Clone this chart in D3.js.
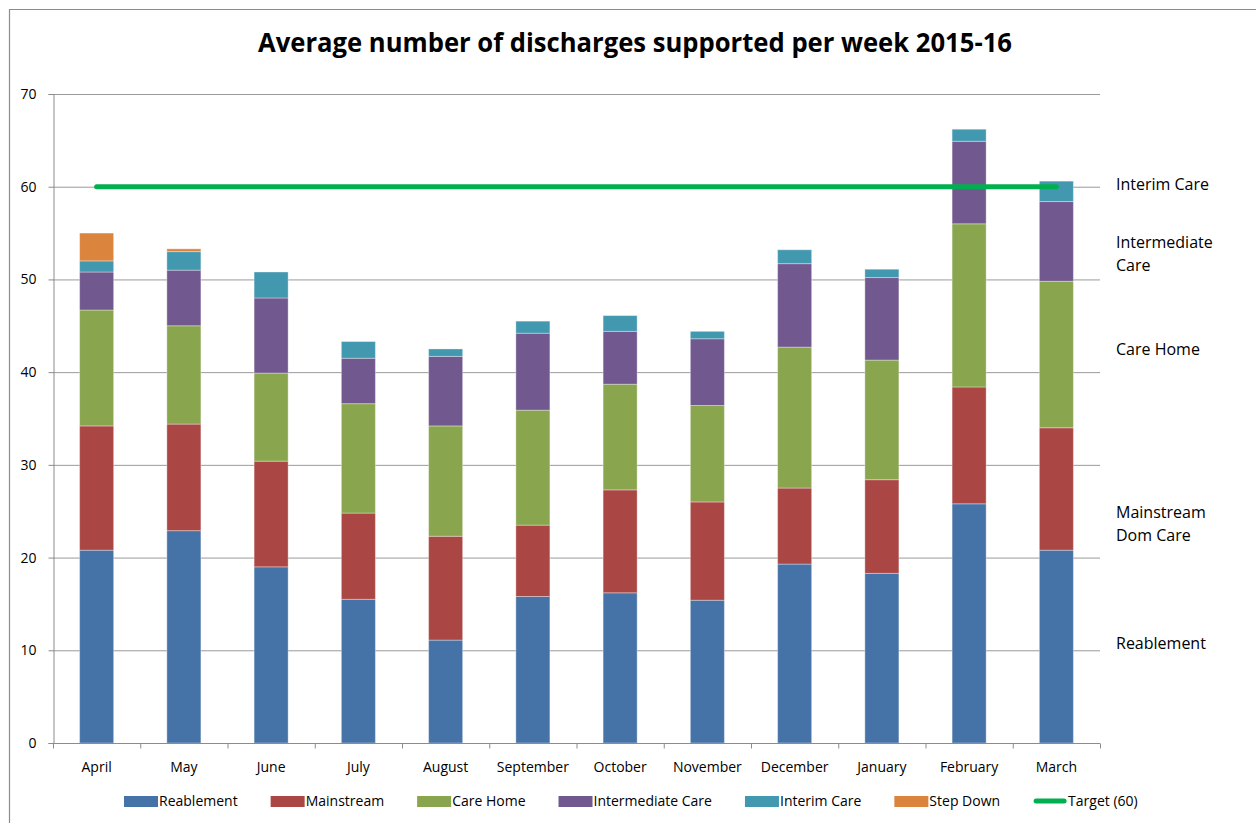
<!DOCTYPE html>
<html><head><meta charset="utf-8">
<script src="https://cdn.jsdelivr.net/npm/d3@7"></script>
<style>body{margin:0;background:#fff;} svg{display:block;font-family:Lato,"Open Sans",sans-serif;}</style>
</head><body>
<svg id="c" width="1256" height="823"></svg>
<script>
const months = ["April","May","June","July","August","September","October","November","December","January","February","March"];
const seriesNames = ["Reablement","Mainstream","Care Home","Intermediate Care","Interim Care","Step Down"];
const reablement   = [20.8,22.9,19.0,15.5,11.1,15.8,16.2,15.4,19.3,18.3,25.8,20.8];
const mainstream   = [13.4,11.5,11.4, 9.3,11.2, 7.7,11.1,10.6, 8.2,10.1,12.6,13.2];
const careHome     = [12.5,10.6, 9.5,11.8,11.9,12.4,11.4,10.4,15.2,12.9,17.6,15.8];
const intermediate = [ 4.1, 6.0, 8.1, 4.9, 7.5, 8.3, 5.7, 7.2, 9.0, 8.9, 8.9, 8.6];
const interim      = [ 1.2, 2.0, 2.8, 1.8, 0.8, 1.3, 1.7, 0.8, 1.5, 0.9, 1.3, 2.2];
const stepDown     = [ 3.0, 0.3, 0, 0, 0, 0, 0, 0, 0, 0, 0, 0];
const target = 60;
const yTicks = [0,10,20,30,40,50,60,70];
const sideLabels = [["Reablement"],["Mainstream","Dom Care"],["Care Home"],["Intermediate","Care"],["Interim Care"]];
const sideLabelValues = [10.8, 23.7, 42.5, 52.8, 60.3];
const colors = ["#4572A7","#AA4643","#89A54E","#71588F","#4198AF","#DB843D"];

const svg = d3.select("#c");
const m = {l:53, r:1100, t:94, b:743};
const x = d3.scaleBand().domain(months).range([m.l, m.r]).paddingInner(0.61).paddingOuter(0.305);
const y = d3.scaleLinear().domain([0,70]).range([m.b, m.t]);

// outer border
svg.append("path").attr("d","M9.5,830 L9.5,9.5 L1270,9.5").attr("fill","none").attr("stroke","#8c8c8c").attr("stroke-width",1.2);

// gridlines
svg.append("g").selectAll("line").data(yTicks.filter(d=>d>0)).join("line")
  .attr("x1",m.l).attr("x2",m.r).attr("y1",d=>y(d)+0.5).attr("y2",d=>y(d)+0.5)
  .attr("stroke","#9a9a9a").attr("stroke-width",1);

// stacked bars
const rows = months.map((mo,i)=>({month:mo, "Reablement":reablement[i], "Mainstream":mainstream[i], "Care Home":careHome[i], "Intermediate Care":intermediate[i], "Interim Care":interim[i], "Step Down":stepDown[i]}));
const stack = d3.stack().keys(seriesNames)(rows);
svg.append("g").selectAll("g").data(stack).join("g").attr("fill",(d,i)=>colors[i])
  .selectAll("rect").data(d=>d.filter(s=>s[1]-s[0]>0)).join("rect")
  .attr("x",d=>x(d.data.month)).attr("width",x.bandwidth())
  .attr("y",d=>y(d[1])).attr("height",d=>y(d[0])-y(d[1]))
  .attr("stroke","rgba(255,255,255,0.35)").attr("stroke-width",1);

// y axis
const ya = d3.axisLeft(y).tickValues(yTicks).tickSize(5).tickPadding(12);
const gy = svg.append("g").attr("transform",`translate(${m.l+0.5},0)`).call(ya);
gy.select(".domain").attr("stroke","#8c8c8c");
gy.selectAll(".tick line").attr("stroke","#8c8c8c");
gy.selectAll("text").attr("font-size",14).attr("fill","#000").attr("font-family","'Open Sans',sans-serif");

// x axis
const gx = svg.append("g").attr("transform",`translate(0,${m.b+0.5})`);
gx.append("line").attr("x1",m.l).attr("x2",m.r).attr("stroke","#8c8c8c");
const step = x.step();
gx.selectAll(".tk").data(d3.range(months.length+1)).join("line")
  .attr("x1",i=>m.l+i*step+0.5).attr("x2",i=>m.l+i*step+0.5).attr("y1",0).attr("y2",5).attr("stroke","#8c8c8c");
gx.selectAll("text").data(months).join("text")
  .attr("x",d=>x(d)+x.bandwidth()/2).attr("y",28).attr("text-anchor","middle")
  .attr("font-size",14).attr("font-family","'Open Sans',sans-serif").text(d=>d);

// target line
svg.append("line").attr("x1",x(months[0])+x.bandwidth()/2).attr("x2",x(months[months.length-1])+x.bandwidth()/2)
  .attr("y1",y(target)).attr("y2",y(target)).attr("stroke","#00B050").attr("stroke-width",5).attr("stroke-linecap","round");

// title
svg.append("text").attr("x",635).attr("y",52).attr("text-anchor","middle").attr("font-weight","bold")
  .attr("font-size",27).attr("font-family","'Open Sans',sans-serif").attr("textLength",754).attr("lengthAdjust","spacingAndGlyphs")
  .text("Average number of discharges supported per week 2015-16");

// side labels
const sl = svg.append("g").attr("font-size",16).attr("font-family","'Open Sans',sans-serif");
sideLabels.forEach((lines,i)=>{
  const t = sl.append("text").attr("x",1116).attr("y",y(sideLabelValues[i]) - (lines.length-1)*11.5 + 6);
  lines.forEach((ln,j)=>t.append("tspan").attr("x",1116).attr("dy",j?23:0).text(ln));
});

// legend
const lg = svg.append("g").attr("font-size",14).attr("font-family","'Open Sans',sans-serif");
let lx = 124;
const legendItems = seriesNames.map((n,i)=>({name:n,color:colors[i],type:"rect"})).concat([{name:"Target ("+target+")",color:"#00B050",type:"line"}]);
legendItems.forEach(it=>{
  const g = lg.append("g").attr("transform",`translate(${lx},0)`);
  if(it.type==="rect") g.append("rect").attr("x",0).attr("y",796).attr("width",34).attr("height",11).attr("fill",it.color);
  else g.append("line").attr("x1",3).attr("x2",31).attr("y1",801).attr("y2",801).attr("stroke",it.color).attr("stroke-width",5).attr("stroke-linecap","round");
  const t = g.append("text").attr("x",35).attr("y",806).text(it.name);
  const w = t.node().getComputedTextLength();
  lx += 35 + w + 33;
});
</script>
</body></html>
